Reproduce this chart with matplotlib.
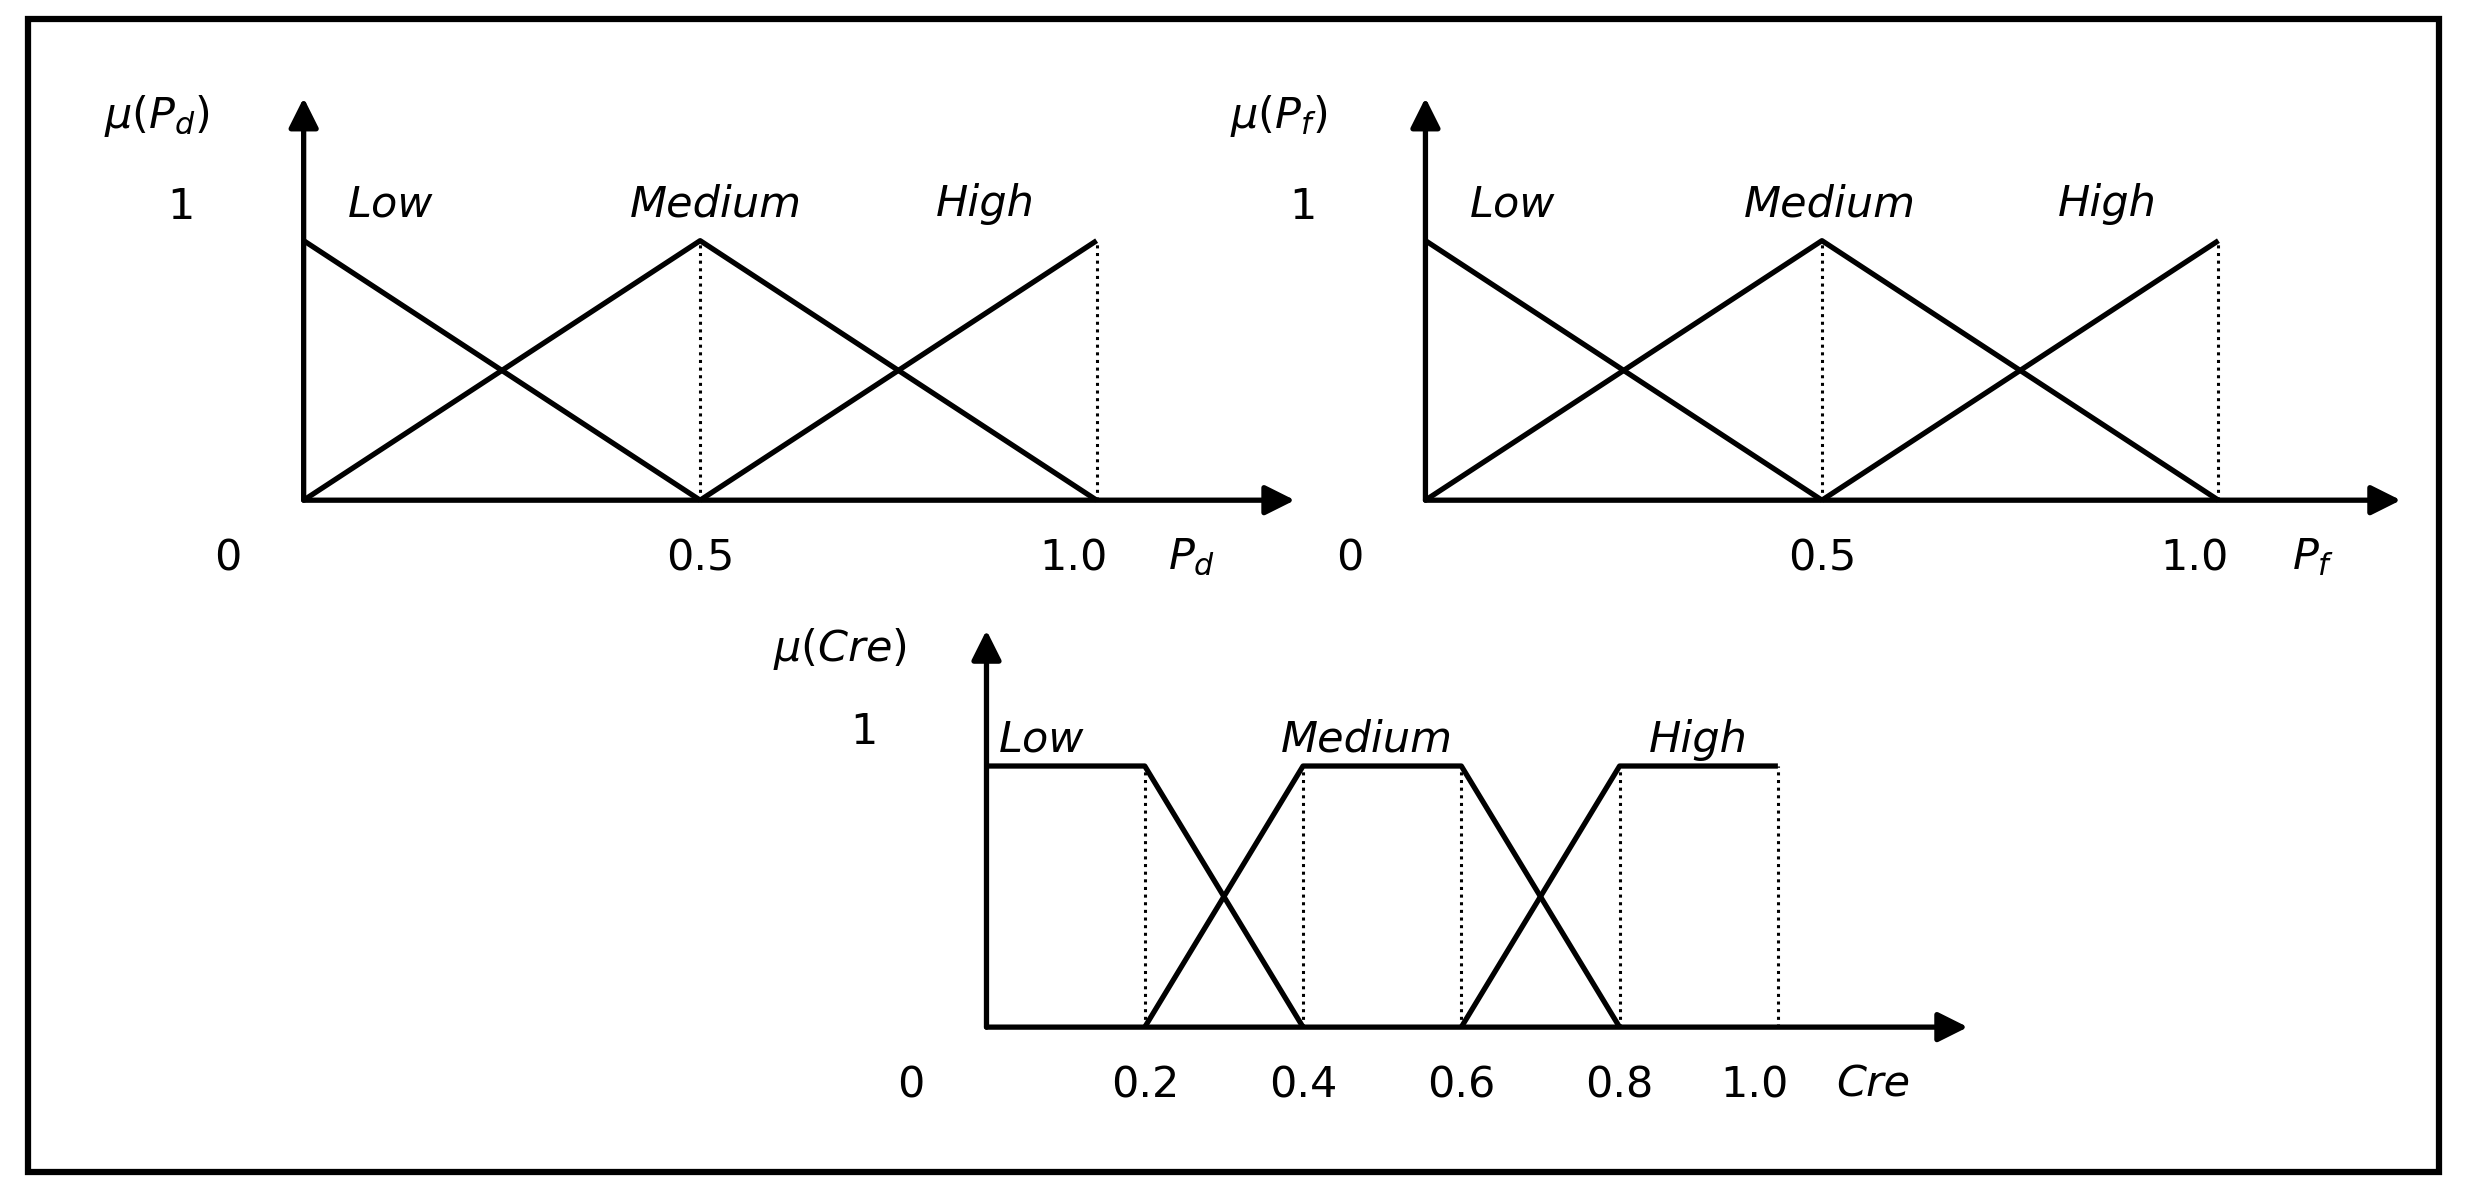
import matplotlib
matplotlib.use("Agg")
import matplotlib.pyplot as plt
from matplotlib.patches import Rectangle

plt.rcParams['mathtext.fontset'] = 'dejavusans'
plt.rcParams['font.family'] = 'DejaVu Sans'

# triangular sets for P_d and P_f
tri_x = {'Low': [0, 0.5], 'Medium': [0, 0.5, 1.0], 'High': [0.5, 1.0]}
tri_y = {'Low': [1, 0], 'Medium': [0, 1, 0], 'High': [0, 1]}
tri_dotted = [0.5, 1.0]
tri_ticks = ['0', '0.5', '1.0']
tri_tickpos = [0, 0.5, 1.0]

# trapezoid sets for Cre
cre_x = {'Low': [0, 0.2, 0.4], 'Medium': [0.2, 0.4, 0.6, 0.8], 'High': [0.6, 0.8, 1.0]}
cre_y = {'Low': [1, 1, 0], 'Medium': [0, 1, 1, 0], 'High': [0, 1, 1]}
cre_dotted = [0.2, 0.4, 0.6, 0.8, 1.0]
cre_ticks = ['0', '0.2', '0.4', '0.6', '0.8', '1.0']
cre_tickpos = [0, 0.2, 0.4, 0.6, 0.8, 1.0]

W, H = 1568, 761
fig = plt.figure(figsize=(24.67, 11.97), dpi=100)
fig.patches.append(Rectangle((18 / W, 1 - 745 / H), 1532 / W, 733 / H,
                             transform=fig.transFigure, fill=False, lw=4.5, ec='black'))

FS = 31
LW = 3.8


def panel(ox, oy, ux, uy, xs, ys, dotted, ticks, tickpos, ylab, xlab, xend, ytop, labpos):
    ax = fig.add_axes([0, 0, 1, 1])
    ax.set_xlim(-ox / ux, (W - ox) / ux)
    ax.set_ylim(-(H - oy) / uy, oy / uy)
    ax.axis('off')
    ax.patch.set_alpha(0)
    for k in xs:
        ax.plot(xs[k], ys[k], color='black', lw=LW, solid_capstyle='butt')
    for d in dotted:
        ax.plot([d, d], [0, 1], color='black', lw=2.2, ls=(0, (1, 1.5)))
    ap = dict(arrowstyle='-|>', color='black', lw=LW, mutation_scale=45, shrinkA=0, shrinkB=0)
    ax.annotate('', xy=(xend, 0), xytext=(0, 0), arrowprops=ap)
    ax.annotate('', xy=(0, ytop), xytext=(0, 0), arrowprops=ap)
    for t, p in zip(ticks, tickpos):
        if p == 0:
            ax.text(-48 / ux, -37 / uy, t, fontsize=FS, ha='center', va='center')
        else:
            ax.text(p - (15 / ux if p == 1.0 else 0), -37 / uy, t, fontsize=FS, ha='center', va='center')
    ax.text(xlab[0], xlab[1], xlab[2], fontsize=FS, ha='center', va='center', style='italic')
    ax.text(-93 / ux, ytop - 0.07, ylab, fontsize=FS, ha='center', va='center', style='italic')
    ax.text(-78 / ux, 1.13, '1', fontsize=FS, ha='center', va='center')
    for name, (lx, ly) in labpos.items():
        ax.text(lx, ly, name, fontsize=FS, ha='center', va='center', style='italic')


panel(193, 318, 504, 165, tri_x, tri_y, tri_dotted, tri_ticks, tri_tickpos,
      r'$\mu(P_d)$', (1.12, -0.22, r'$P_d$'), 1.25, 1.55,
      {'Low': (0.11, 1.14), 'Medium': (0.52, 1.14), 'High': (0.86, 1.14)})
panel(906, 318, 504, 165, tri_x, tri_y, tri_dotted, tri_ticks, tri_tickpos,
      r'$\mu(P_f)$', (1.12, -0.22, r'$P_f$'), 1.23, 1.55,
      {'Low': (0.11, 1.14), 'Medium': (0.51, 1.14), 'High': (0.86, 1.14)})
panel(627, 653, 503, 166, cre_x, cre_y, cre_dotted, cre_ticks, cre_tickpos,
      r'$\mu(Cre)$', (1.12, -0.22, 'Cre'), 1.24, 1.52,
      {'Low': (0.07, 1.1), 'Medium': (0.48, 1.1), 'High': (0.9, 1.1)})

fig.savefig('out.png', dpi=100)
